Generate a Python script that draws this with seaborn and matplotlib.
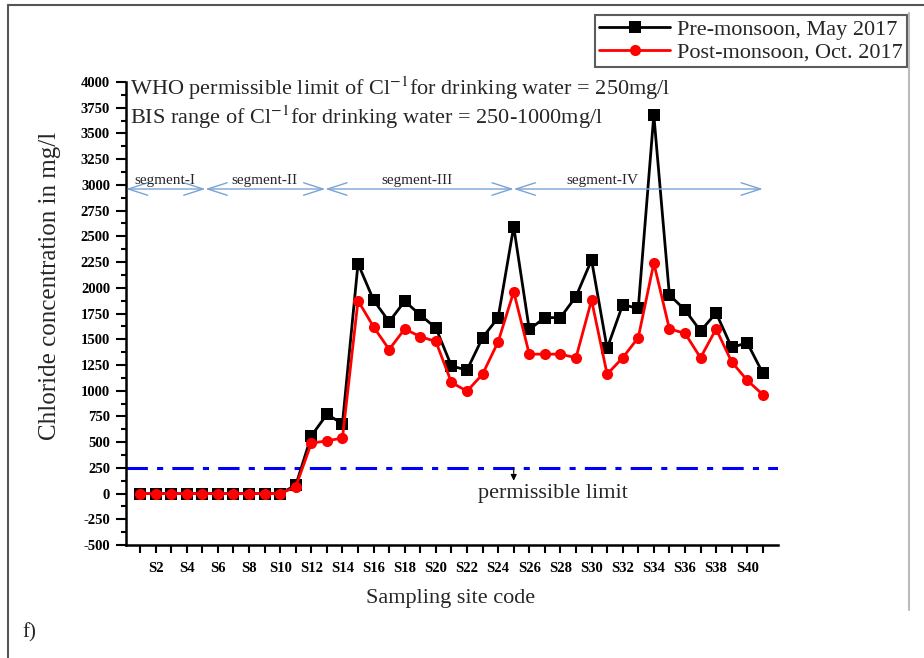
import numpy as np
import pandas as pd
import seaborn as sns
import matplotlib.pyplot as plt
from matplotlib.lines import Line2D


# data
sites = list(range(1, 42))
pre_monsoon = [0, 0, 0, 0, 0, 0, 0, 0, 0, 0,
               80, 560, 770, 680, 2235, 1880, 1670, 1870, 1735, 1610,
               1240, 1200, 1515, 1710, 2595, 1595, 1710, 1710, 1915, 2270,
               1410, 1835, 1800, 3680, 1930, 1785, 1580, 1755, 1420, 1465,
               1170]
post_monsoon = [0, 0, 0, 0, 0, 0, 0, 0, 0, 0,
                65, 490, 512, 540, 1875, 1620, 1400, 1600, 1525, 1478,
                1080, 995, 1160, 1475, 1962, 1355, 1355, 1355, 1320, 1880,
                1160, 1320, 1515, 2240, 1600, 1558, 1320, 1600, 1280, 1100,
                962]
series_names = ["Pre-monsoon, May 2017", "Post-monsoon, Oct. 2017"]
tick_sites = list(range(2, 41, 2))
tick_labels = [f"S{s}" for s in tick_sites]
permissible = 250
segment_names = ["segment-I", "segment-II", "segment-III", "segment-IV"]
segment_bounds = [0.1, 5.2, 12.9, 25, 41]
segment_label_x = [2.6, 9.0, 18.8, 30.7]

df = pd.concat([
    pd.DataFrame({"site": sites, "chloride": pre_monsoon, "season": series_names[0]}),
    pd.DataFrame({"site": sites, "chloride": post_monsoon, "season": series_names[1]}),
])

sns.set_style("white")
plt.rcParams["font.family"] = ["Liberation Serif", "DejaVu Serif"]
plt.rcParams["mathtext.fontset"] = "stix"
plt.rcParams["axes.unicode_minus"] = False

fig = plt.figure(figsize=(9.24, 6.58), dpi=100)
ax = fig.add_axes([0.1364, 0.1717, 0.706, 0.7037])

sns.lineplot(data=df, x="site", y="chloride", hue="season", style="season",
             palette={series_names[0]: "black", series_names[1]: "red"},
             markers={series_names[0]: "s", series_names[1]: "o"},
             dashes=False, markersize=8, linewidth=2, markeredgewidth=0,
             ax=ax)

# WHO permissible limit line
ax.axhline(permissible, color="blue", lw=2.2, ls=(0, (7, 3, 2, 3)), zorder=1)
ax.annotate("", xy=(25, 125), xytext=(25, permissible),
            arrowprops=dict(arrowstyle="-|>", color="black", lw=0.8,
                            mutation_scale=9, shrinkA=0, shrinkB=0))
ax.text(27.5, 5, "permissible limit", ha="center", va="center", fontsize=16)

# segment arrows
for i, name in enumerate(segment_names):
    ax.annotate("", xy=(segment_bounds[i + 1], 2960), xytext=(segment_bounds[i], 2960),
                arrowprops=dict(arrowstyle="<->,head_length=1.4,head_width=0.45",
                                color="#7aa3d6", lw=1, mutation_scale=10,
                                shrinkA=0, shrinkB=0))
    ax.text(segment_label_x[i], 3045, name, ha="center", va="center", fontsize=11)

ax.text(0.006, 0.987, "WHO permissible limit of Cl$^{-1}$for drinking water = 250mg/l",
        transform=ax.transAxes, ha="left", va="center", fontsize=16)
ax.text(0.006, 0.924, "BIS range of Cl$^{-1}$for drinking water = 250-1000mg/l",
        transform=ax.transAxes, ha="left", va="center", fontsize=16)

ax.set_xlim(0.1, 42)
ax.set_ylim(-500, 4000)
ax.set_xticks(tick_sites)
ax.set_xticklabels(tick_labels)
ax.set_xticks(range(1, 42, 2), minor=True)
ax.set_yticks(np.arange(-500, 4001, 250))
ax.set_yticks(np.arange(-375, 4000, 250), minor=True)
ax.tick_params(axis="both", which="both", direction="out", width=1.5,
               labelsize=10.5, colors="black", bottom=True, left=True)
ax.tick_params(axis="x", which="both", length=6, pad=6)
ax.tick_params(axis="y", which="major", length=7.5, pad=4)
ax.tick_params(axis="y", which="minor", length=3.5)
for lab in ax.get_xticklabels() + ax.get_yticklabels():
    lab.set_fontweight("bold")

for side in ["top", "right"]:
    ax.spines[side].set_visible(False)
for side in ["left", "bottom"]:
    ax.spines[side].set_linewidth(1.8)
    ax.spines[side].set_color("black")

ax.set_xlabel("Sampling site code", fontsize=16)
ax.set_ylabel("Chloride concentration in mg/l", fontsize=18)
ax.xaxis.set_label_coords(0.497, -0.095)
ax.yaxis.set_label_coords(-0.1, 0.56)

leg = ax.legend(loc="upper right", bbox_to_anchor=(0.9816, 0.977),
                bbox_transform=fig.transFigure, fontsize=16, frameon=True,
                fancybox=False, handlelength=3.2, borderpad=0.2,
                borderaxespad=0, labelspacing=0.1, handletextpad=0.3, title=None)
leg.get_frame().set_edgecolor("#333333")
leg.get_frame().set_linewidth(1.5)

fig.text(0.024, 1 - 633 / 658, "f)", ha="left", va="center", fontsize=15)

# outer frame of the figure panel
fig.add_artist(Line2D([8 / 924, 1], [1 - 5 / 658, 1 - 5 / 658],
                      transform=fig.transFigure, color="#555555", lw=1.5))
fig.add_artist(Line2D([8 / 924, 8 / 924], [0, 1 - 5 / 658],
                      transform=fig.transFigure, color="#555555", lw=1.5))
fig.add_artist(Line2D([909 / 924, 909 / 924], [1 - 610 / 658, 1 - 13 / 658],
                      transform=fig.transFigure, color="#bbbbbb", lw=1.5))

fig.savefig("out.png", dpi=100)
